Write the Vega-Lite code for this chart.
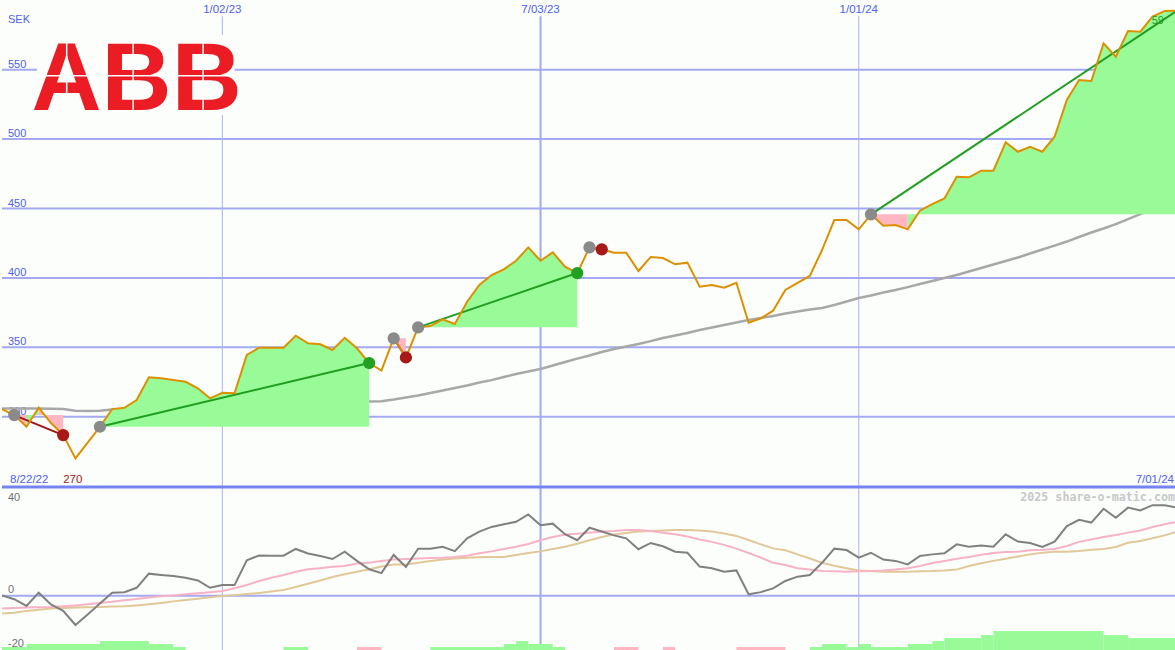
{
  "$schema": "https://vega.github.io/schema/vega-lite/v6.json",
  "padding": 0,
  "spacing": 0,
  "bounds": "flush",
  "background": "#fbfefb",
  "config": {"view": {"stroke": null}, "concat": {"spacing": 0}},
  "datasets": {
    "weekly": [
      {"date":"2022-08-29","close":305.5,"ma":305.9,"osc":0.1,"fast":-4.7,"slow":-6.6},
      {"date":"2022-09-05","close":301.2,"ma":305.9,"osc":-1.3,"fast":-4.5,"slow":-6.3},
      {"date":"2022-09-12","close":292.8,"ma":305.9,"osc":-3.8,"fast":-4.4,"slow":-5.6},
      {"date":"2022-09-19","close":306.5,"ma":305.9,"osc":1.1,"fast":-4.3,"slow":-5.2},
      {"date":"2022-09-26","close":295.5,"ma":305.8,"osc":-3.2,"fast":-4.2,"slow":-4.7},
      {"date":"2022-10-03","close":286.8,"ma":305.5,"osc":-5.6,"fast":-3.9,"slow":-4.5},
      {"date":"2022-10-10","close":270.0,"ma":304.3,"osc":-10.8,"fast":-3.6,"slow":-4.4},
      {"date":"2022-10-17","close":281.3,"ma":304.2,"osc":-6.9,"fast":-3.2,"slow":-4.3},
      {"date":"2022-10-24","close":292.8,"ma":304.3,"osc":-2.9,"fast":-2.7,"slow":-4.2},
      {"date":"2022-10-31","close":305.5,"ma":305.2,"osc":1.1,"fast":-2.2,"slow":-4.0},
      {"date":"2022-11-07","close":306.5,"ma":305.5,"osc":1.3,"fast":-1.7,"slow":-3.9},
      {"date":"2022-11-14","close":312.0,"ma":305.5,"osc":2.9,"fast":-1.2,"slow":-3.6},
      {"date":"2022-11-21","close":328.4,"ma":305.5,"osc":8.1,"fast":-0.7,"slow":-3.2},
      {"date":"2022-11-28","close":327.7,"ma":305.5,"osc":7.6,"fast":-0.2,"slow":-2.7},
      {"date":"2022-12-05","close":326.4,"ma":305.5,"osc":7.2,"fast":0.1,"slow":-2.1},
      {"date":"2022-12-12","close":325.2,"ma":305.5,"osc":6.6,"fast":0.5,"slow":-1.6},
      {"date":"2022-12-19","close":320.5,"ma":305.4,"osc":5.6,"fast":0.9,"slow":-1.1},
      {"date":"2022-12-26","close":313.3,"ma":305.2,"osc":2.9,"fast":1.3,"slow":-0.6},
      {"date":"2023-01-02","close":317.3,"ma":304.8,"osc":3.9,"fast":1.7,"slow":-0.1},
      {"date":"2023-01-09","close":316.9,"ma":304.7,"osc":3.9,"fast":2.7,"slow":0.2},
      {"date":"2023-01-16","close":344.5,"ma":304.8,"osc":13.0,"fast":3.9,"slow":0.6},
      {"date":"2023-01-23","close":349.7,"ma":305.3,"osc":14.8,"fast":5.4,"slow":1.0},
      {"date":"2023-01-30","close":349.7,"ma":306.0,"osc":14.7,"fast":6.6,"slow":1.5},
      {"date":"2023-02-06","close":349.7,"ma":306.5,"osc":14.7,"fast":7.6,"slow":2.1},
      {"date":"2023-02-13","close":358.4,"ma":307.0,"osc":17.2,"fast":8.8,"slow":3.2},
      {"date":"2023-02-20","close":352.9,"ma":307.6,"osc":15.5,"fast":9.7,"slow":4.4},
      {"date":"2023-02-27","close":352.2,"ma":308.1,"osc":14.6,"fast":10.1,"slow":5.6},
      {"date":"2023-03-06","close":348.1,"ma":308.6,"osc":13.5,"fast":10.6,"slow":6.9},
      {"date":"2023-03-13","close":356.9,"ma":309.6,"osc":16.2,"fast":10.9,"slow":7.9},
      {"date":"2023-03-20","close":349.3,"ma":310.6,"osc":12.8,"fast":11.8,"slow":8.8},
      {"date":"2023-03-27","close":338.7,"ma":311.0,"osc":9.7,"fast":12.1,"slow":9.7},
      {"date":"2023-04-03","close":333.3,"ma":311.2,"osc":8.3,"fast":12.8,"slow":10.7},
      {"date":"2023-04-10","close":356.5,"ma":312.4,"osc":15.0,"fast":13.3,"slow":11.5},
      {"date":"2023-04-17","close":342.7,"ma":313.8,"osc":10.6,"fast":13.5,"slow":11.5},
      {"date":"2023-04-24","close":364.4,"ma":315.3,"osc":17.3,"fast":13.7,"slow":12.1},
      {"date":"2023-05-01","close":365.3,"ma":317.1,"osc":17.3,"fast":13.9,"slow":12.8},
      {"date":"2023-05-08","close":370.2,"ma":318.9,"osc":18.0,"fast":14.0,"slow":13.3},
      {"date":"2023-05-15","close":366.8,"ma":320.7,"osc":16.4,"fast":14.2,"slow":13.7},
      {"date":"2023-05-22","close":382.9,"ma":322.5,"osc":21.1,"fast":14.7,"slow":14.0},
      {"date":"2023-05-29","close":394.9,"ma":324.7,"osc":23.6,"fast":15.6,"slow":14.1},
      {"date":"2023-06-05","close":402.1,"ma":326.4,"osc":25.3,"fast":16.3,"slow":14.2},
      {"date":"2023-06-12","close":406.2,"ma":328.6,"osc":26.3,"fast":17.2,"slow":14.2},
      {"date":"2023-06-19","close":412.4,"ma":330.8,"osc":27.2,"fast":18.0,"slow":15.0},
      {"date":"2023-06-26","close":422.0,"ma":332.6,"osc":29.9,"fast":19.0,"slow":15.7},
      {"date":"2023-07-03","close":412.4,"ma":334.4,"osc":25.9,"fast":20.4,"slow":16.3},
      {"date":"2023-07-10","close":418.4,"ma":336.9,"osc":26.5,"fast":21.6,"slow":17.2},
      {"date":"2023-07-17","close":408.1,"ma":339.4,"osc":22.6,"fast":22.5,"slow":18.0},
      {"date":"2023-07-24","close":403.5,"ma":341.9,"osc":20.4,"fast":22.8,"slow":19.1},
      {"date":"2023-07-31","close":422.0,"ma":344.1,"osc":25.0,"fast":23.2,"slow":20.4},
      {"date":"2023-08-07","close":420.6,"ma":346.6,"osc":23.6,"fast":23.6,"slow":21.6},
      {"date":"2023-08-14","close":418.2,"ma":348.8,"osc":22.2,"fast":23.8,"slow":22.5},
      {"date":"2023-08-21","close":418.2,"ma":350.6,"osc":21.1,"fast":24.2,"slow":23.1},
      {"date":"2023-08-28","close":405.0,"ma":352.4,"osc":17.1,"fast":24.2,"slow":23.6},
      {"date":"2023-09-04","close":415.1,"ma":354.5,"osc":19.4,"fast":23.8,"slow":23.8},
      {"date":"2023-09-11","close":414.3,"ma":356.7,"osc":18.2,"fast":23.2,"slow":24.0},
      {"date":"2023-09-18","close":409.8,"ma":358.5,"osc":16.2,"fast":22.6,"slow":24.2},
      {"date":"2023-09-25","close":411.0,"ma":360.3,"osc":15.8,"fast":21.8,"slow":24.2},
      {"date":"2023-10-02","close":393.7,"ma":362.5,"osc":10.7,"fast":20.7,"slow":24.0},
      {"date":"2023-10-09","close":394.9,"ma":364.3,"osc":10.1,"fast":19.8,"slow":23.6},
      {"date":"2023-10-16","close":392.9,"ma":366.1,"osc":8.8,"fast":18.7,"slow":22.9},
      {"date":"2023-10-23","close":396.5,"ma":367.9,"osc":9.3,"fast":17.3,"slow":22.0},
      {"date":"2023-10-30","close":367.7,"ma":369.7,"osc":0.5,"fast":15.7,"slow":20.5},
      {"date":"2023-11-06","close":370.9,"ma":371.1,"osc":1.3,"fast":14.0,"slow":18.9},
      {"date":"2023-11-13","close":376.4,"ma":372.6,"osc":2.7,"fast":12.1,"slow":17.4},
      {"date":"2023-11-20","close":391.3,"ma":374.4,"osc":5.4,"fast":11.3,"slow":16.7},
      {"date":"2023-11-27","close":396.5,"ma":375.8,"osc":7.0,"fast":10.1,"slow":15.2},
      {"date":"2023-12-04","close":401.4,"ma":377.2,"osc":7.6,"fast":9.6,"slow":13.7},
      {"date":"2023-12-11","close":420.1,"ma":378.3,"osc":12.1,"fast":9.1,"slow":12.1},
      {"date":"2023-12-18","close":441.7,"ma":380.5,"osc":17.3,"fast":9.0,"slow":11.0},
      {"date":"2023-12-25","close":441.7,"ma":383.0,"osc":16.8,"fast":8.8,"slow":10.1},
      {"date":"2024-01-01","close":435.0,"ma":385.5,"osc":14.0,"fast":9.0,"slow":9.3},
      {"date":"2024-01-08","close":445.8,"ma":387.3,"osc":15.8,"fast":9.1,"slow":9.1},
      {"date":"2024-01-15","close":437.6,"ma":389.5,"osc":13.3,"fast":9.3,"slow":8.8},
      {"date":"2024-01-22","close":438.1,"ma":391.3,"osc":12.8,"fast":9.6,"slow":8.8},
      {"date":"2024-01-29","close":435.0,"ma":393.4,"osc":11.5,"fast":10.1,"slow":8.8},
      {"date":"2024-02-05","close":448.4,"ma":395.6,"osc":14.6,"fast":10.9,"slow":9.0},
      {"date":"2024-02-12","close":453.2,"ma":397.8,"osc":15.2,"fast":12.0,"slow":9.1},
      {"date":"2024-02-19","close":457.3,"ma":400.0,"osc":15.6,"fast":12.8,"slow":9.3},
      {"date":"2024-02-26","close":472.9,"ma":402.1,"osc":18.9,"fast":13.6,"slow":9.6},
      {"date":"2024-03-04","close":472.5,"ma":404.6,"osc":18.0,"fast":14.2,"slow":10.9},
      {"date":"2024-03-11","close":477.2,"ma":407.1,"osc":18.5,"fast":15.1,"slow":11.9},
      {"date":"2024-03-18","close":477.2,"ma":409.7,"osc":18.0,"fast":15.7,"slow":12.8},
      {"date":"2024-03-25","close":497.7,"ma":412.2,"osc":22.6,"fast":16.1,"slow":13.6},
      {"date":"2024-04-01","close":490.9,"ma":414.7,"osc":19.9,"fast":16.2,"slow":14.4},
      {"date":"2024-04-08","close":494.5,"ma":417.6,"osc":19.4,"fast":16.7,"slow":15.2},
      {"date":"2024-04-15","close":490.9,"ma":420.5,"osc":17.9,"fast":16.9,"slow":15.8},
      {"date":"2024-04-22","close":501.7,"ma":423.3,"osc":19.9,"fast":17.2,"slow":16.2},
      {"date":"2024-04-29","close":528.2,"ma":426.2,"osc":25.6,"fast":18.3,"slow":16.2},
      {"date":"2024-05-06","close":542.6,"ma":429.5,"osc":27.9,"fast":19.8,"slow":16.4},
      {"date":"2024-05-13","close":541.9,"ma":432.7,"osc":26.9,"fast":20.7,"slow":16.9},
      {"date":"2024-05-20","close":569.0,"ma":435.6,"osc":32.0,"fast":21.6,"slow":17.2},
      {"date":"2024-05-27","close":559.4,"ma":438.8,"osc":28.7,"fast":22.3,"slow":17.9},
      {"date":"2024-06-03","close":577.9,"ma":442.4,"osc":32.4,"fast":23.2,"slow":19.5},
      {"date":"2024-06-10","close":577.4,"ma":446.0,"osc":31.4,"fast":24.0,"slow":20.1},
      {"date":"2024-06-17","close":588.2,"ma":449.6,"osc":33.3,"fast":25.3,"slow":21.1},
      {"date":"2024-06-24","close":592.3,"ma":452.9,"osc":33.3,"fast":26.3,"slow":22.2},
      {"date":"2024-07-01","close":592.5,"ma":456.1,"osc":32.4,"fast":27.2,"slow":23.6}
    ],
    "fills": [
      {"seg":"A1","kind":"loss","date":"2022-09-05","price":301.2,"base":301.2},
      {"seg":"A1","kind":"loss","date":"2022-09-12","price":292.8,"base":301.2},
      {"seg":"A2","kind":"gain","date":"2022-09-12","price":292.8,"base":301.2},
      {"seg":"A2","kind":"gain","date":"2022-09-19","price":306.5,"base":301.2},
      {"seg":"A3","kind":"loss","date":"2022-09-19","price":306.5,"base":301.2},
      {"seg":"A3","kind":"loss","date":"2022-09-26","price":295.5,"base":301.2},
      {"seg":"A3","kind":"loss","date":"2022-10-03","price":286.8,"base":301.2},
      {"seg":"B","kind":"gain","date":"2022-10-24","price":292.8,"base":292.8},
      {"seg":"B","kind":"gain","date":"2022-10-31","price":305.5,"base":292.8},
      {"seg":"B","kind":"gain","date":"2022-11-07","price":306.5,"base":292.8},
      {"seg":"B","kind":"gain","date":"2022-11-14","price":312.0,"base":292.8},
      {"seg":"B","kind":"gain","date":"2022-11-21","price":328.4,"base":292.8},
      {"seg":"B","kind":"gain","date":"2022-11-28","price":327.7,"base":292.8},
      {"seg":"B","kind":"gain","date":"2022-12-05","price":326.4,"base":292.8},
      {"seg":"B","kind":"gain","date":"2022-12-12","price":325.2,"base":292.8},
      {"seg":"B","kind":"gain","date":"2022-12-19","price":320.5,"base":292.8},
      {"seg":"B","kind":"gain","date":"2022-12-26","price":313.3,"base":292.8},
      {"seg":"B","kind":"gain","date":"2023-01-02","price":317.3,"base":292.8},
      {"seg":"B","kind":"gain","date":"2023-01-09","price":316.9,"base":292.8},
      {"seg":"B","kind":"gain","date":"2023-01-16","price":344.5,"base":292.8},
      {"seg":"B","kind":"gain","date":"2023-01-23","price":349.7,"base":292.8},
      {"seg":"B","kind":"gain","date":"2023-01-30","price":349.7,"base":292.8},
      {"seg":"B","kind":"gain","date":"2023-02-06","price":349.7,"base":292.8},
      {"seg":"B","kind":"gain","date":"2023-02-13","price":358.4,"base":292.8},
      {"seg":"B","kind":"gain","date":"2023-02-20","price":352.9,"base":292.8},
      {"seg":"B","kind":"gain","date":"2023-02-27","price":352.2,"base":292.8},
      {"seg":"B","kind":"gain","date":"2023-03-06","price":348.1,"base":292.8},
      {"seg":"B","kind":"gain","date":"2023-03-13","price":356.9,"base":292.8},
      {"seg":"B","kind":"gain","date":"2023-03-20","price":349.3,"base":292.8},
      {"seg":"B","kind":"gain","date":"2023-03-27","price":338.7,"base":292.8},
      {"seg":"C","kind":"loss","date":"2023-04-10","price":356.5,"base":356.5},
      {"seg":"C","kind":"loss","date":"2023-04-17","price":342.7,"base":356.5},
      {"seg":"D","kind":"gain","date":"2023-04-24","price":364.4,"base":364.4},
      {"seg":"D","kind":"gain","date":"2023-05-01","price":365.3,"base":364.4},
      {"seg":"D","kind":"gain","date":"2023-05-08","price":370.2,"base":364.4},
      {"seg":"D","kind":"gain","date":"2023-05-15","price":366.8,"base":364.4},
      {"seg":"D","kind":"gain","date":"2023-05-22","price":382.9,"base":364.4},
      {"seg":"D","kind":"gain","date":"2023-05-29","price":394.9,"base":364.4},
      {"seg":"D","kind":"gain","date":"2023-06-05","price":402.1,"base":364.4},
      {"seg":"D","kind":"gain","date":"2023-06-12","price":406.2,"base":364.4},
      {"seg":"D","kind":"gain","date":"2023-06-19","price":412.4,"base":364.4},
      {"seg":"D","kind":"gain","date":"2023-06-26","price":422.0,"base":364.4},
      {"seg":"D","kind":"gain","date":"2023-07-03","price":412.4,"base":364.4},
      {"seg":"D","kind":"gain","date":"2023-07-10","price":418.4,"base":364.4},
      {"seg":"D","kind":"gain","date":"2023-07-17","price":408.1,"base":364.4},
      {"seg":"D","kind":"gain","date":"2023-07-24","price":403.5,"base":364.4},
      {"seg":"E","kind":"loss","date":"2023-07-31","price":422.0,"base":422.0},
      {"seg":"E","kind":"loss","date":"2023-08-07","price":420.6,"base":422.0},
      {"seg":"F1","kind":"loss","date":"2024-01-08","price":445.8,"base":445.8},
      {"seg":"F1","kind":"loss","date":"2024-01-15","price":437.6,"base":445.8},
      {"seg":"F1","kind":"loss","date":"2024-01-22","price":438.1,"base":445.8},
      {"seg":"F1","kind":"loss","date":"2024-01-29","price":435.0,"base":445.8},
      {"seg":"F2","kind":"gain","date":"2024-01-29","price":435.0,"base":445.8},
      {"seg":"F2","kind":"gain","date":"2024-02-05","price":448.4,"base":445.8},
      {"seg":"F2","kind":"gain","date":"2024-02-12","price":453.2,"base":445.8},
      {"seg":"F2","kind":"gain","date":"2024-02-19","price":457.3,"base":445.8},
      {"seg":"F2","kind":"gain","date":"2024-02-26","price":472.9,"base":445.8},
      {"seg":"F2","kind":"gain","date":"2024-03-04","price":472.5,"base":445.8},
      {"seg":"F2","kind":"gain","date":"2024-03-11","price":477.2,"base":445.8},
      {"seg":"F2","kind":"gain","date":"2024-03-18","price":477.2,"base":445.8},
      {"seg":"F2","kind":"gain","date":"2024-03-25","price":497.7,"base":445.8},
      {"seg":"F2","kind":"gain","date":"2024-04-01","price":490.9,"base":445.8},
      {"seg":"F2","kind":"gain","date":"2024-04-08","price":494.5,"base":445.8},
      {"seg":"F2","kind":"gain","date":"2024-04-15","price":490.9,"base":445.8},
      {"seg":"F2","kind":"gain","date":"2024-04-22","price":501.7,"base":445.8},
      {"seg":"F2","kind":"gain","date":"2024-04-29","price":528.2,"base":445.8},
      {"seg":"F2","kind":"gain","date":"2024-05-06","price":542.6,"base":445.8},
      {"seg":"F2","kind":"gain","date":"2024-05-13","price":541.9,"base":445.8},
      {"seg":"F2","kind":"gain","date":"2024-05-20","price":569.0,"base":445.8},
      {"seg":"F2","kind":"gain","date":"2024-05-27","price":559.4,"base":445.8},
      {"seg":"F2","kind":"gain","date":"2024-06-03","price":577.9,"base":445.8},
      {"seg":"F2","kind":"gain","date":"2024-06-10","price":577.4,"base":445.8},
      {"seg":"F2","kind":"gain","date":"2024-06-17","price":588.2,"base":445.8},
      {"seg":"F2","kind":"gain","date":"2024-06-24","price":592.3,"base":445.8},
      {"seg":"F2","kind":"gain","date":"2024-07-01","price":592.5,"base":445.8}
    ],
    "trades": [
      {"trade":"A","result":"loss","date":"2022-09-05","price":301.2},
      {"trade":"A","result":"loss","date":"2022-10-03","price":286.8},
      {"trade":"B","result":"win","date":"2022-10-24","price":292.8},
      {"trade":"B","result":"win","date":"2023-03-27","price":338.7},
      {"trade":"C","result":"loss","date":"2023-04-10","price":356.5},
      {"trade":"C","result":"loss","date":"2023-04-17","price":342.7},
      {"trade":"D","result":"win","date":"2023-04-24","price":364.4},
      {"trade":"D","result":"win","date":"2023-07-24","price":403.5},
      {"trade":"E","result":"loss","date":"2023-07-31","price":422.0},
      {"trade":"E","result":"loss","date":"2023-08-07","price":420.6},
      {"trade":"F","result":"win","date":"2024-01-08","price":445.8},
      {"trade":"F","result":"win","date":"2024-07-01","price":592.5}
    ],
    "signals": [
      {"type":"entry","date":"2022-09-05","price":301.2},
      {"type":"loss","date":"2022-10-03","price":286.8},
      {"type":"entry","date":"2022-10-24","price":292.8},
      {"type":"win","date":"2023-03-27","price":338.7},
      {"type":"entry","date":"2023-04-10","price":356.5},
      {"type":"loss","date":"2023-04-17","price":342.7},
      {"type":"entry","date":"2023-04-24","price":364.4},
      {"type":"win","date":"2023-07-24","price":403.5},
      {"type":"entry","date":"2023-07-31","price":422.0},
      {"type":"loss","date":"2023-08-07","price":420.6},
      {"type":"entry","date":"2024-01-08","price":445.8}
    ],
    "bars": [
      {"start":"2022-08-29","end":"2022-09-12","level":-18.9,"trend":"up"},
      {"start":"2022-09-12","end":"2022-10-24","level":-17.8,"trend":"up"},
      {"start":"2022-10-24","end":"2022-11-21","level":-16.7,"trend":"up"},
      {"start":"2022-11-21","end":"2022-12-05","level":-17.8,"trend":"up"},
      {"start":"2022-12-05","end":"2022-12-12","level":-18.9,"trend":"up"},
      {"start":"2023-02-06","end":"2023-02-20","level":-18.9,"trend":"up"},
      {"start":"2023-03-20","end":"2023-04-03","level":-18.9,"trend":"down"},
      {"start":"2023-05-01","end":"2023-06-12","level":-18.9,"trend":"up"},
      {"start":"2023-06-12","end":"2023-06-19","level":-17.8,"trend":"up"},
      {"start":"2023-06-19","end":"2023-06-26","level":-16.7,"trend":"up"},
      {"start":"2023-06-26","end":"2023-07-10","level":-17.8,"trend":"up"},
      {"start":"2023-07-10","end":"2023-07-17","level":-18.9,"trend":"up"},
      {"start":"2023-08-14","end":"2023-08-28","level":-18.9,"trend":"down"},
      {"start":"2023-09-11","end":"2023-09-18","level":-18.9,"trend":"down"},
      {"start":"2023-10-23","end":"2023-11-20","level":-18.9,"trend":"down"},
      {"start":"2023-12-04","end":"2023-12-11","level":-18.9,"trend":"up"},
      {"start":"2023-12-11","end":"2023-12-25","level":-17.8,"trend":"up"},
      {"start":"2023-12-25","end":"2024-01-01","level":-18.9,"trend":"up"},
      {"start":"2024-01-01","end":"2024-01-08","level":-17.8,"trend":"up"},
      {"start":"2024-01-08","end":"2024-01-29","level":-18.9,"trend":"up"},
      {"start":"2024-01-29","end":"2024-02-12","level":-17.8,"trend":"up"},
      {"start":"2024-02-12","end":"2024-02-19","level":-16.7,"trend":"up"},
      {"start":"2024-02-19","end":"2024-03-11","level":-15.6,"trend":"up"},
      {"start":"2024-03-11","end":"2024-03-18","level":-14.5,"trend":"up"},
      {"start":"2024-03-18","end":"2024-05-20","level":-13.0,"trend":"up"},
      {"start":"2024-05-20","end":"2024-06-03","level":-14.5,"trend":"up"},
      {"start":"2024-06-03","end":"2024-07-01","level":-15.6,"trend":"up"}
    ],
    "vgrid": [
      {"date":"2023-01-02","label":"1/02/23","major":"no"},
      {"date":"2023-07-03","label":"7/03/23","major":"yes"},
      {"date":"2024-01-01","label":"1/01/24","major":"no"}
    ],
    "ylabels": [
      {"date":"2022-08-29","price":550,"text":"550"},
      {"date":"2022-08-29","price":500,"text":"500"},
      {"date":"2022-08-29","price":450,"text":"450"},
      {"date":"2022-08-29","price":400,"text":"400"},
      {"date":"2022-08-29","price":350,"text":"350"},
      {"date":"2022-08-29","price":300,"text":"300"},
      {"date":"2022-08-29","price":582.5,"text":"SEK"}
    ],
    "hgrid": [{"level":300},{"level":350},{"level":400},{"level":450},{"level":500},{"level":550}],
    "logoStripesV": [
      {"date":"2022-10-05","top":571.4,"bottom":521.0},
      {"date":"2022-11-12","top":571.4,"bottom":521.0},
      {"date":"2022-12-22","top":571.4,"bottom":521.0}
    ],
    "logoStripesH": [
      {"from":"2022-09-16","to":"2023-01-12","price":545.6}
    ],
    "notes": [
      {"date":"2022-08-29","price":252.2,"text":"8/22/22","kind":"start"},
      {"date":"2022-10-03","price":252.2,"text":"270","kind":"low"},
      {"date":"2024-07-01","price":252.2,"text":"7/01/24","kind":"end"}
    ]
  },
  "vconcat": [
    {
      "width": 1175,
      "height": 487,
      "layer": [
        {
          "data": {"name": "hgrid"},
          "mark": {"type": "rule", "color": "#a3aaf2", "strokeWidth": 2},
          "encoding": {"y": {"field": "level", "type": "quantitative", "scale": {"domain": [249.4, 600.2], "nice": false, "zero": false}, "axis": null}}
        },
        {
          "data": {"name": "vgrid"},
          "transform": [{"filter": "datum.major == 'no'"}],
          "mark": {"type": "rule", "color": "#aab1f2", "strokeWidth": 1},
          "encoding": {
            "x": {"field": "date", "type": "temporal", "scale": {"type": "utc", "nice": false, "domain": [{"year":2022,"month":8,"date":29,"utc":true},{"year":2024,"month":7,"date":1,"utc":true}]}, "axis": null},
            "y": {"datum": 588.5, "type": "quantitative", "scale": {"domain": [249.4, 600.2], "nice": false, "zero": false}, "axis": null},
            "y2": {"datum": 249.4}
          }
        },
        {
          "data": {"name": "vgrid"},
          "transform": [{"filter": "datum.major == 'yes'"}],
          "mark": {"type": "rule", "color": "#a3aaf2", "strokeWidth": 2},
          "encoding": {
            "x": {"field": "date", "type": "temporal", "scale": {"type": "utc", "nice": false, "domain": [{"year":2022,"month":8,"date":29,"utc":true},{"year":2024,"month":7,"date":1,"utc":true}]}, "axis": null},
            "y": {"datum": 588.5, "type": "quantitative", "scale": {"domain": [249.4, 600.2], "nice": false, "zero": false}, "axis": null},
            "y2": {"datum": 249.4}
          }
        },
        {
          "data": {"name": "ylabels"},
          "mark": {"type": "text", "align": "left", "baseline": "alphabetic", "dx": 6, "dy": -2, "font": "Liberation Sans", "fontSize": 11, "color": "#5060f0"},
          "encoding": {
            "x": {"field": "date", "type": "temporal", "scale": {"type": "utc", "nice": false, "domain": [{"year":2022,"month":8,"date":29,"utc":true},{"year":2024,"month":7,"date":1,"utc":true}]}, "axis": null},
            "y": {"field": "price", "type": "quantitative", "scale": {"domain": [249.4, 600.2], "nice": false, "zero": false}, "axis": null},
            "text": {"field": "text"}
          }
        },
        {
          "data": {"name": "vgrid"},
          "mark": {"type": "text", "align": "center", "baseline": "alphabetic", "font": "Liberation Sans", "fontSize": 11.5, "color": "#5060f0"},
          "encoding": {
            "x": {"field": "date", "type": "temporal", "scale": {"type": "utc", "nice": false, "domain": [{"year":2022,"month":8,"date":29,"utc":true},{"year":2024,"month":7,"date":1,"utc":true}]}, "axis": null},
            "y": {"datum": 590.9, "type": "quantitative", "scale": {"domain": [249.4, 600.2], "nice": false, "zero": false}, "axis": null},
            "text": {"field": "label"}
          }
        },
        {
          "data": {"values": [{"from":"2022-09-18","to":"2023-01-09","low":517.3,"high":575.0}]},
          "mark": {"type": "rect", "color": "#fbfefb"},
          "encoding": {
            "x": {"field": "from", "type": "temporal", "scale": {"type": "utc", "nice": false, "domain": [{"year":2022,"month":8,"date":29,"utc":true},{"year":2024,"month":7,"date":1,"utc":true}]}, "axis": null},
            "x2": {"field": "to"},
            "y": {"field": "high", "type": "quantitative", "scale": {"domain": [249.4, 600.2], "nice": false, "zero": false}, "axis": null},
            "y2": {"field": "low"}
          }
        },
        {
          "data": {"values": [{"date":"2022-11-14","price":521.0,"name":"ABB"}]},
          "mark": {"type": "text", "align": "center", "baseline": "alphabetic", "font": "Liberation Sans", "fontWeight": "bold", "fontSize": 97, "color": "#ec1c24"},
          "encoding": {
            "x": {"field": "date", "type": "temporal", "scale": {"type": "utc", "nice": false, "domain": [{"year":2022,"month":8,"date":29,"utc":true},{"year":2024,"month":7,"date":1,"utc":true}]}, "axis": null},
            "y": {"field": "price", "type": "quantitative", "scale": {"domain": [249.4, 600.2], "nice": false, "zero": false}, "axis": null},
            "text": {"field": "name"}
          }
        },
        {
          "data": {"name": "logoStripesV"},
          "mark": {"type": "rule", "color": "#fbfefb", "strokeWidth": 1.5},
          "encoding": {
            "x": {"field": "date", "type": "temporal", "scale": {"type": "utc", "nice": false, "domain": [{"year":2022,"month":8,"date":29,"utc":true},{"year":2024,"month":7,"date":1,"utc":true}]}, "axis": null},
            "y": {"field": "top", "type": "quantitative", "scale": {"domain": [249.4, 600.2], "nice": false, "zero": false}, "axis": null},
            "y2": {"field": "bottom"}
          }
        },
        {
          "data": {"name": "logoStripesH"},
          "mark": {"type": "rule", "color": "#fbfefb", "strokeWidth": 1.5},
          "encoding": {
            "x": {"field": "from", "type": "temporal", "scale": {"type": "utc", "nice": false, "domain": [{"year":2022,"month":8,"date":29,"utc":true},{"year":2024,"month":7,"date":1,"utc":true}]}, "axis": null},
            "x2": {"field": "to"},
            "y": {"field": "price", "type": "quantitative", "scale": {"domain": [249.4, 600.2], "nice": false, "zero": false}, "axis": null}
          }
        },
        {
          "data": {"name": "weekly"},
          "mark": {"type": "line", "color": "#a8a8a8", "strokeWidth": 2.5, "clip": true},
          "encoding": {
            "x": {"field": "date", "type": "temporal", "scale": {"type": "utc", "nice": false, "domain": [{"year":2022,"month":8,"date":29,"utc":true},{"year":2024,"month":7,"date":1,"utc":true}]}, "axis": null},
            "y": {"field": "ma", "type": "quantitative", "scale": {"domain": [249.4, 600.2], "nice": false, "zero": false}, "axis": null}
          }
        },
        {
          "data": {"name": "fills"},
          "transform": [{"filter": "datum.kind == 'gain'"}],
          "mark": {"type": "area", "color": "#98fb98", "opacity": 1, "clip": true},
          "encoding": {
            "x": {"field": "date", "type": "temporal", "scale": {"type": "utc", "nice": false, "domain": [{"year":2022,"month":8,"date":29,"utc":true},{"year":2024,"month":7,"date":1,"utc":true}]}, "axis": null},
            "y": {"field": "price", "type": "quantitative", "scale": {"domain": [249.4, 600.2], "nice": false, "zero": false}, "axis": null},
            "y2": {"field": "base"},
            "detail": {"field": "seg"}
          }
        },
        {
          "data": {"name": "fills"},
          "transform": [{"filter": "datum.kind == 'loss'"}],
          "mark": {"type": "area", "color": "#ffb6c1", "opacity": 1, "clip": true},
          "encoding": {
            "x": {"field": "date", "type": "temporal", "scale": {"type": "utc", "nice": false, "domain": [{"year":2022,"month":8,"date":29,"utc":true},{"year":2024,"month":7,"date":1,"utc":true}]}, "axis": null},
            "y": {"field": "price", "type": "quantitative", "scale": {"domain": [249.4, 600.2], "nice": false, "zero": false}, "axis": null},
            "y2": {"field": "base"},
            "detail": {"field": "seg"}
          }
        },
        {
          "data": {"name": "trades"},
          "transform": [{"filter": "datum.result == 'win'"}],
          "mark": {"type": "line", "color": "#1f9e1f", "strokeWidth": 2, "clip": true},
          "encoding": {
            "x": {"field": "date", "type": "temporal", "scale": {"type": "utc", "nice": false, "domain": [{"year":2022,"month":8,"date":29,"utc":true},{"year":2024,"month":7,"date":1,"utc":true}]}, "axis": null},
            "y": {"field": "price", "type": "quantitative", "scale": {"domain": [249.4, 600.2], "nice": false, "zero": false}, "axis": null},
            "detail": {"field": "trade"}
          }
        },
        {
          "data": {"name": "trades"},
          "transform": [{"filter": "datum.result == 'loss'"}],
          "mark": {"type": "line", "color": "#a31515", "strokeWidth": 2, "clip": true},
          "encoding": {
            "x": {"field": "date", "type": "temporal", "scale": {"type": "utc", "nice": false, "domain": [{"year":2022,"month":8,"date":29,"utc":true},{"year":2024,"month":7,"date":1,"utc":true}]}, "axis": null},
            "y": {"field": "price", "type": "quantitative", "scale": {"domain": [249.4, 600.2], "nice": false, "zero": false}, "axis": null},
            "detail": {"field": "trade"}
          }
        },
        {
          "data": {"name": "weekly"},
          "mark": {"type": "line", "color": "#dc9000", "strokeWidth": 2, "clip": true},
          "encoding": {
            "x": {"field": "date", "type": "temporal", "scale": {"type": "utc", "nice": false, "domain": [{"year":2022,"month":8,"date":29,"utc":true},{"year":2024,"month":7,"date":1,"utc":true}]}, "axis": null},
            "y": {"field": "close", "type": "quantitative", "scale": {"domain": [249.4, 600.2], "nice": false, "zero": false}, "axis": null}
          }
        },
        {
          "data": {"name": "signals"},
          "transform": [{"filter": "datum.type == 'entry'"}],
          "mark": {"type": "circle", "size": 150, "opacity": 1, "color": "#8a8a8a", "clip": true},
          "encoding": {
            "x": {"field": "date", "type": "temporal", "scale": {"type": "utc", "nice": false, "domain": [{"year":2022,"month":8,"date":29,"utc":true},{"year":2024,"month":7,"date":1,"utc":true}]}, "axis": null},
            "y": {"field": "price", "type": "quantitative", "scale": {"domain": [249.4, 600.2], "nice": false, "zero": false}, "axis": null}
          }
        },
        {
          "data": {"name": "signals"},
          "transform": [{"filter": "datum.type == 'win'"}],
          "mark": {"type": "circle", "size": 150, "opacity": 1, "color": "#22a022", "clip": true},
          "encoding": {
            "x": {"field": "date", "type": "temporal", "scale": {"type": "utc", "nice": false, "domain": [{"year":2022,"month":8,"date":29,"utc":true},{"year":2024,"month":7,"date":1,"utc":true}]}, "axis": null},
            "y": {"field": "price", "type": "quantitative", "scale": {"domain": [249.4, 600.2], "nice": false, "zero": false}, "axis": null}
          }
        },
        {
          "data": {"name": "signals"},
          "transform": [{"filter": "datum.type == 'loss'"}],
          "mark": {"type": "circle", "size": 150, "opacity": 1, "color": "#a81818", "clip": true},
          "encoding": {
            "x": {"field": "date", "type": "temporal", "scale": {"type": "utc", "nice": false, "domain": [{"year":2022,"month":8,"date":29,"utc":true},{"year":2024,"month":7,"date":1,"utc":true}]}, "axis": null},
            "y": {"field": "price", "type": "quantitative", "scale": {"domain": [249.4, 600.2], "nice": false, "zero": false}, "axis": null}
          }
        },
        {
          "data": {"values": [{"date":"2024-06-20","price":585.3,"text":"59"}]},
          "mark": {"type": "text", "align": "center", "baseline": "middle", "font": "Liberation Sans", "fontSize": 11, "color": "#22a022"},
          "encoding": {
            "x": {"field": "date", "type": "temporal", "scale": {"type": "utc", "nice": false, "domain": [{"year":2022,"month":8,"date":29,"utc":true},{"year":2024,"month":7,"date":1,"utc":true}]}, "axis": null},
            "y": {"field": "price", "type": "quantitative", "scale": {"domain": [249.4, 600.2], "nice": false, "zero": false}, "axis": null},
            "text": {"field": "text"}
          }
        },
        {
          "data": {"name": "notes"},
          "transform": [{"filter": "datum.kind == 'start'"}],
          "mark": {"type": "text", "align": "left", "baseline": "alphabetic", "dx": 8, "font": "Liberation Sans", "fontSize": 11.5, "color": "#5060f0"},
          "encoding": {
            "x": {"field": "date", "type": "temporal", "scale": {"type": "utc", "nice": false, "domain": [{"year":2022,"month":8,"date":29,"utc":true},{"year":2024,"month":7,"date":1,"utc":true}]}, "axis": null},
            "y": {"field": "price", "type": "quantitative", "scale": {"domain": [249.4, 600.2], "nice": false, "zero": false}, "axis": null},
            "text": {"field": "text"}
          }
        },
        {
          "data": {"name": "notes"},
          "transform": [{"filter": "datum.kind == 'low'"}],
          "mark": {"type": "text", "align": "left", "baseline": "alphabetic", "font": "Liberation Sans", "fontSize": 11.5, "color": "#a81818"},
          "encoding": {
            "x": {"field": "date", "type": "temporal", "scale": {"type": "utc", "nice": false, "domain": [{"year":2022,"month":8,"date":29,"utc":true},{"year":2024,"month":7,"date":1,"utc":true}]}, "axis": null},
            "y": {"field": "price", "type": "quantitative", "scale": {"domain": [249.4, 600.2], "nice": false, "zero": false}, "axis": null},
            "text": {"field": "text"}
          }
        },
        {
          "data": {"name": "notes"},
          "transform": [{"filter": "datum.kind == 'end'"}],
          "mark": {"type": "text", "align": "right", "baseline": "alphabetic", "dx": -3, "font": "Liberation Sans", "fontSize": 11.5, "color": "#5060f0"},
          "encoding": {
            "x": {"field": "date", "type": "temporal", "scale": {"type": "utc", "nice": false, "domain": [{"year":2022,"month":8,"date":29,"utc":true},{"year":2024,"month":7,"date":1,"utc":true}]}, "axis": null},
            "y": {"field": "price", "type": "quantitative", "scale": {"domain": [249.4, 600.2], "nice": false, "zero": false}, "axis": null},
            "text": {"field": "text"}
          }
        }
      ]
    },
    {
      "width": 1175,
      "height": 163,
      "layer": [
        {
          "data": {"values": [{"level": 0}]},
          "mark": {"type": "rule", "color": "#a3aaf2", "strokeWidth": 2},
          "encoding": {"y": {"field": "level", "type": "quantitative", "scale": {"domain": [-20, 40], "nice": false, "zero": false}, "axis": null}}
        },
        {
          "data": {"name": "vgrid"},
          "transform": [{"filter": "datum.major == 'no'"}],
          "mark": {"type": "rule", "color": "#aab1f2", "strokeWidth": 1},
          "encoding": {
            "x": {"field": "date", "type": "temporal", "scale": {"type": "utc", "nice": false, "domain": [{"year":2022,"month":8,"date":29,"utc":true},{"year":2024,"month":7,"date":1,"utc":true}]}, "axis": null},
            "y": {"datum": 40, "type": "quantitative", "scale": {"domain": [-20, 40], "nice": false, "zero": false}, "axis": null},
            "y2": {"datum": -20}
          }
        },
        {
          "data": {"name": "vgrid"},
          "transform": [{"filter": "datum.major == 'yes'"}],
          "mark": {"type": "rule", "color": "#a3aaf2", "strokeWidth": 2},
          "encoding": {
            "x": {"field": "date", "type": "temporal", "scale": {"type": "utc", "nice": false, "domain": [{"year":2022,"month":8,"date":29,"utc":true},{"year":2024,"month":7,"date":1,"utc":true}]}, "axis": null},
            "y": {"datum": 40, "type": "quantitative", "scale": {"domain": [-20, 40], "nice": false, "zero": false}, "axis": null},
            "y2": {"datum": -20}
          }
        },
        {
          "data": {"name": "bars"},
          "transform": [{"filter": "datum.trend == 'up'"}],
          "mark": {"type": "rect", "color": "#98fb98", "opacity": 1},
          "encoding": {
            "x": {"field": "start", "type": "temporal", "scale": {"type": "utc", "nice": false, "domain": [{"year":2022,"month":8,"date":29,"utc":true},{"year":2024,"month":7,"date":1,"utc":true}]}, "axis": null},
            "x2": {"field": "end"},
            "y": {"field": "level", "type": "quantitative", "scale": {"domain": [-20, 40], "nice": false, "zero": false}, "axis": null},
            "y2": {"datum": -20}
          }
        },
        {
          "data": {"name": "bars"},
          "transform": [{"filter": "datum.trend == 'down'"}],
          "mark": {"type": "rect", "color": "#ffb6c1", "opacity": 1},
          "encoding": {
            "x": {"field": "start", "type": "temporal", "scale": {"type": "utc", "nice": false, "domain": [{"year":2022,"month":8,"date":29,"utc":true},{"year":2024,"month":7,"date":1,"utc":true}]}, "axis": null},
            "x2": {"field": "end"},
            "y": {"field": "level", "type": "quantitative", "scale": {"domain": [-20, 40], "nice": false, "zero": false}, "axis": null},
            "y2": {"datum": -20}
          }
        },
        {
          "data": {"name": "weekly"},
          "mark": {"type": "line", "color": "#e2c898", "strokeWidth": 2, "clip": true},
          "encoding": {
            "x": {"field": "date", "type": "temporal", "scale": {"type": "utc", "nice": false, "domain": [{"year":2022,"month":8,"date":29,"utc":true},{"year":2024,"month":7,"date":1,"utc":true}]}, "axis": null},
            "y": {"field": "slow", "type": "quantitative", "scale": {"domain": [-20, 40], "nice": false, "zero": false}, "axis": null}
          }
        },
        {
          "data": {"name": "weekly"},
          "mark": {"type": "line", "color": "#f8b2c6", "strokeWidth": 2, "clip": true},
          "encoding": {
            "x": {"field": "date", "type": "temporal", "scale": {"type": "utc", "nice": false, "domain": [{"year":2022,"month":8,"date":29,"utc":true},{"year":2024,"month":7,"date":1,"utc":true}]}, "axis": null},
            "y": {"field": "fast", "type": "quantitative", "scale": {"domain": [-20, 40], "nice": false, "zero": false}, "axis": null}
          }
        },
        {
          "data": {"name": "weekly"},
          "mark": {"type": "line", "color": "#808080", "strokeWidth": 2, "clip": true},
          "encoding": {
            "x": {"field": "date", "type": "temporal", "scale": {"type": "utc", "nice": false, "domain": [{"year":2022,"month":8,"date":29,"utc":true},{"year":2024,"month":7,"date":1,"utc":true}]}, "axis": null},
            "y": {"field": "osc", "type": "quantitative", "scale": {"domain": [-20, 40], "nice": false, "zero": false}, "axis": null}
          }
        },
        {
          "data": {"values": [{"date":"2022-08-29","value":40,"text":"40"}]},
          "mark": {"type": "text", "align": "left", "baseline": "top", "dx": 6, "dy": 5, "font": "Liberation Sans", "fontSize": 11, "color": "#707070"},
          "encoding": {
            "x": {"field": "date", "type": "temporal", "scale": {"type": "utc", "nice": false, "domain": [{"year":2022,"month":8,"date":29,"utc":true},{"year":2024,"month":7,"date":1,"utc":true}]}, "axis": null},
            "y": {"field": "value", "type": "quantitative", "scale": {"domain": [-20, 40], "nice": false, "zero": false}, "axis": null},
            "text": {"field": "text"}
          }
        },
        {
          "data": {"values": [{"date":"2022-08-29","value":0,"text":"0"},{"date":"2022-08-29","value":-20,"text":"-20"}]},
          "mark": {"type": "text", "align": "left", "baseline": "alphabetic", "dx": 6, "dy": -3, "font": "Liberation Sans", "fontSize": 11, "color": "#707070"},
          "encoding": {
            "x": {"field": "date", "type": "temporal", "scale": {"type": "utc", "nice": false, "domain": [{"year":2022,"month":8,"date":29,"utc":true},{"year":2024,"month":7,"date":1,"utc":true}]}, "axis": null},
            "y": {"field": "value", "type": "quantitative", "scale": {"domain": [-20, 40], "nice": false, "zero": false}, "axis": null},
            "text": {"field": "text"}
          }
        },
        {
          "data": {"values": [{"date":"2024-07-01","value":40,"text":"2025 share-o-matic.com"}]},
          "mark": {"type": "text", "align": "right", "baseline": "top", "dx": -2, "dy": 5, "font": "DejaVu Sans Mono", "fontWeight": "bold", "fontSize": 11.7, "color": "#c8c8c8"},
          "encoding": {
            "x": {"field": "date", "type": "temporal", "scale": {"type": "utc", "nice": false, "domain": [{"year":2022,"month":8,"date":29,"utc":true},{"year":2024,"month":7,"date":1,"utc":true}]}, "axis": null},
            "y": {"field": "value", "type": "quantitative", "scale": {"domain": [-20, 40], "nice": false, "zero": false}, "axis": null},
            "text": {"field": "text"}
          }
        },
        {
          "data": {"values": [{"level": 40}]},
          "mark": {"type": "rule", "color": "#7484f0", "strokeWidth": 3},
          "encoding": {"y": {"field": "level", "type": "quantitative", "scale": {"domain": [-20, 40], "nice": false, "zero": false}, "axis": null}}
        }
      ]
    }
  ]
}
